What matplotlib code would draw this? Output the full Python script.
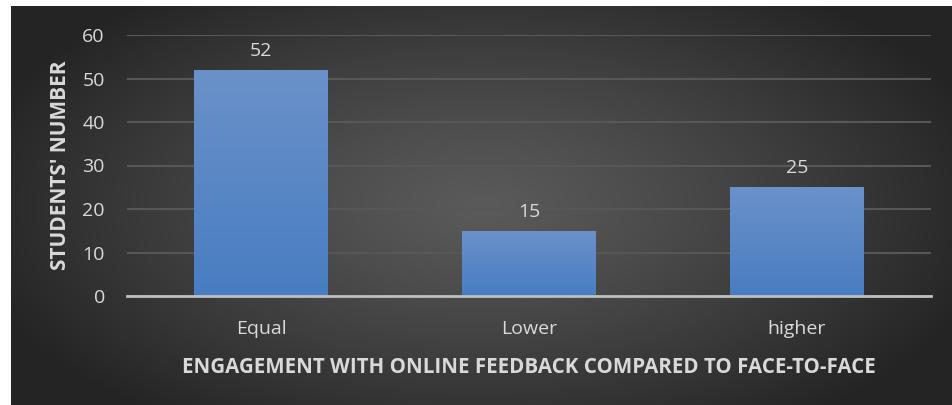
import numpy as np
import matplotlib.pyplot as plt

categories = ["Equal", "Lower", "higher"]
students = [52, 15, 25]
y_ticks = [0, 10, 20, 30, 40, 50, 60]

plt.rcParams['font.family'] = ['Open Sans', 'DejaVu Sans']
txt = '#d9d9d9'

fig = plt.figure(figsize=(9.53, 4.05), dpi=100, facecolor='white')

# dark radial background (leaves a thin white strip at left/top)
bg = fig.add_axes([11 / 953, 0, 1 - 11 / 953, 1 - 6 / 405])
yy, xx = np.mgrid[0:1:300j, 0:1:600j]
r = np.sqrt(((xx - 0.5) / 0.75) ** 2 + ((yy - 0.5) / 0.9) ** 2)
r = np.clip(r / 0.75, 0, 1)
c_in, c_out = np.array([0x5a, 0x5a, 0x5a]) / 255, np.array([0x24, 0x24, 0x24]) / 255
img = c_in + (c_out - c_in) * r[..., None] ** 1.2
bg.imshow(img, aspect='auto', extent=[0, 1, 0, 1])
bg.axis('off')

ax = fig.add_axes([127 / 953, 1 - 296 / 405, 804 / 953, 261 / 405])
ax.patch.set_alpha(0)
x = np.arange(len(categories))
bars = ax.bar(x, students, width=0.5, color='#5b88c6', zorder=3)

# vertical gradient inside each bar
grad = np.linspace(0, 1, 100)[:, None]
top_c, bot_c = np.array([0x6b, 0x91, 0xc9]) / 255, np.array([0x48, 0x7d, 0xc2]) / 255
gimg = (top_c + (bot_c - top_c) * grad[..., None]) * np.ones((100, 2, 3))
for b in bars:
    x0, w, h = b.get_x(), b.get_width(), b.get_height()
    im = ax.imshow(gimg, aspect='auto', extent=[x0, x0 + w, 0, h], zorder=4)
    im.set_clip_path(b)

for xi, v in zip(x, students):
    ax.text(xi, v + 2.3, str(v), ha='center', va='bottom', color=txt, fontsize=14, zorder=5)

ax.set_xlim(-0.5, 2.5)
ax.set_ylim(0, 60)
ax.set_yticks(y_ticks)
ax.set_xticks(x)
ax.set_xticklabels(categories)
ax.tick_params(axis='both', length=0, colors=txt, labelsize=14)
ax.tick_params(axis='y', pad=16)
ax.tick_params(axis='x', pad=17)
ax.grid(axis='y', color='#575757', linewidth=1.5, zorder=0)
for s in ['top', 'right', 'left']:
    ax.spines[s].set_visible(False)
ax.spines['bottom'].set_color('#bfbfbf')
ax.spines['bottom'].set_linewidth(2)
ax.spines['bottom'].set_zorder(6)

ax.set_ylabel("STUDENTS' NUMBER", color=txt, fontsize=15, fontweight='bold', labelpad=8)
ax.set_xlabel("ENGAGEMENT WITH ONLINE FEEDBACK COMPARED TO FACE-TO-FACE",
              color=txt, fontsize=14.8, fontweight='bold', labelpad=14)

fig.savefig('out.png', dpi=100, facecolor='white')
